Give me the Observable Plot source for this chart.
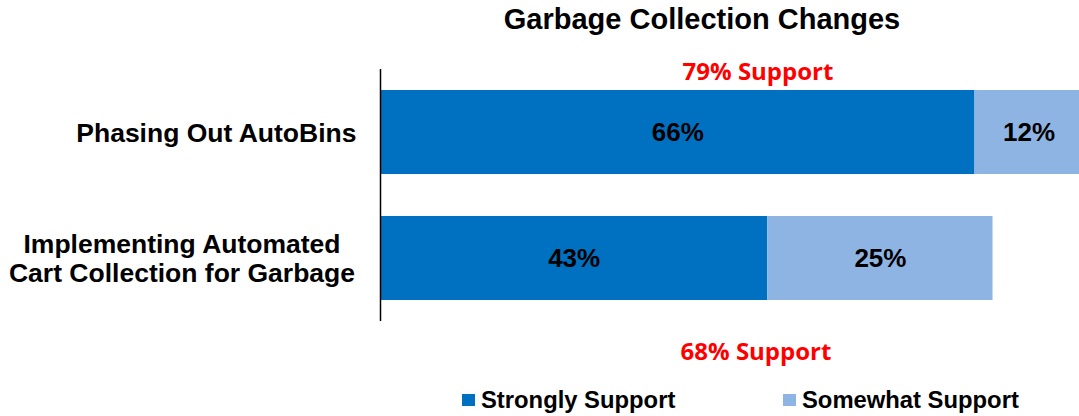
<!DOCTYPE html>
<html>
<head>
<meta charset="utf-8">
<script src="https://cdn.jsdelivr.net/npm/d3@7"></script>
<script src="https://cdn.jsdelivr.net/npm/@observablehq/plot@0.6"></script>
<style>
  html, body { margin: 0; padding: 0; background: #fff; }
  #wrap { position: relative; width: 1079px; height: 416px; overflow: hidden; font-family: "Liberation Sans", Arial, sans-serif; }
  #chart { position: absolute; left: 0; top: 0; }
  #title { position: absolute; left: 702px; top: 5px; transform: translateX(-50%); white-space: nowrap;
           font-size: 29px; line-height: 29px; font-weight: bold; color: #000; }
  .leg { position: absolute; top: 388px; height: 24px; display: flex; align-items: center; white-space: nowrap;
         font-size: 23.8px; line-height: 24px; font-weight: bold; color: #000; }
  .sw { width: 13px; height: 12px; margin-right: 6px; }
</style>
</head>
<body>
<div id="wrap">
  <div id="chart"></div>
  <div id="title"></div>
  <div id="legend"></div>
</div>
<script>
// ---- data ----
const titleText = "Garbage Collection Changes";
const categories = ["Phasing Out AutoBins", "Implementing Automated\nCart Collection for Garbage"];
const seriesNames = ["Strongly Support", "Somewhat Support"];
const seriesColors = ["#0070C0", "#8EB4E3"];
const strongly = [66, 43];
const somewhat = [12, 25];
const totalSupport = [79, 68];

// ---- build table ----
const rows = [];
categories.forEach((c, i) => {
  rows.push({cat: c, series: seriesNames[0], value: strongly[i]});
  rows.push({cat: c, series: seriesNames[1], value: somewhat[i]});
});

const labelStyle = {tickSize: 0, fontSize: 26.5, fontWeight: "bold", lineHeight: 1.08, label: null, fill: "#000"};

const plot = Plot.plot({
  width: 1079,
  height: 416,
  marginLeft: 380,
  marginRight: 0,
  marginTop: 69,
  marginBottom: 95,
  style: {fontFamily: "'Liberation Sans', Arial, sans-serif", background: "#fff", overflow: "visible"},
  x: {domain: [0, 77.6], axis: null},
  y: {domain: categories, paddingInner: 0.33, paddingOuter: 0.165, label: null, axis: null},
  color: {domain: seriesNames, range: seriesColors},
  marks: [
    Plot.barX(rows, Plot.stackX({x: "value", y: "cat", fill: "series", order: seriesNames, clip: true})),
    Plot.text(rows, Plot.stackX({x: "value", y: "cat", z: "series", order: seriesNames,
      text: d => d.value + "%", fontSize: 26, fontWeight: "bold", fill: "#000"})),
    // single-line category label: right aligned
    Plot.axisY([categories[0]], {...labelStyle, tickPadding: 24}),
    // two-line category label: lines centred on each other
    Plot.axisY([categories[1]], {...labelStyle, tickPadding: 0, textAnchor: "middle", dx: -198.5}),
    Plot.ruleX([0], {stroke: "#000", strokeWidth: 1.5}),
    Plot.text([totalSupport[0]], {frameAnchor: "top", text: d => d + "% Support", dx: 28, dy: 3,
      lineAnchor: "middle", fill: "#FF0000", fontSize: 24, fontWeight: "bold", fontFamily: "'Open Sans', sans-serif"}),
    Plot.text([totalSupport[1]], {frameAnchor: "bottom", text: d => d + "% Support", dx: 26, dy: 31,
      lineAnchor: "middle", fill: "#FF0000", fontSize: 24, fontWeight: "bold", fontFamily: "'Open Sans', sans-serif"})
  ]
});
document.getElementById("chart").appendChild(plot);
document.getElementById("title").textContent = titleText;

// legend
const legLefts = [462, 783];
const legend = document.getElementById("legend");
seriesNames.forEach((s, i) => {
  const d = document.createElement("div");
  d.className = "leg";
  d.style.left = legLefts[i] + "px";
  const sw = document.createElement("span");
  sw.className = "sw";
  sw.style.background = seriesColors[i];
  const t = document.createElement("span");
  t.textContent = s;
  d.appendChild(sw); d.appendChild(t);
  legend.appendChild(d);
});
</script>
</body>
</html>
